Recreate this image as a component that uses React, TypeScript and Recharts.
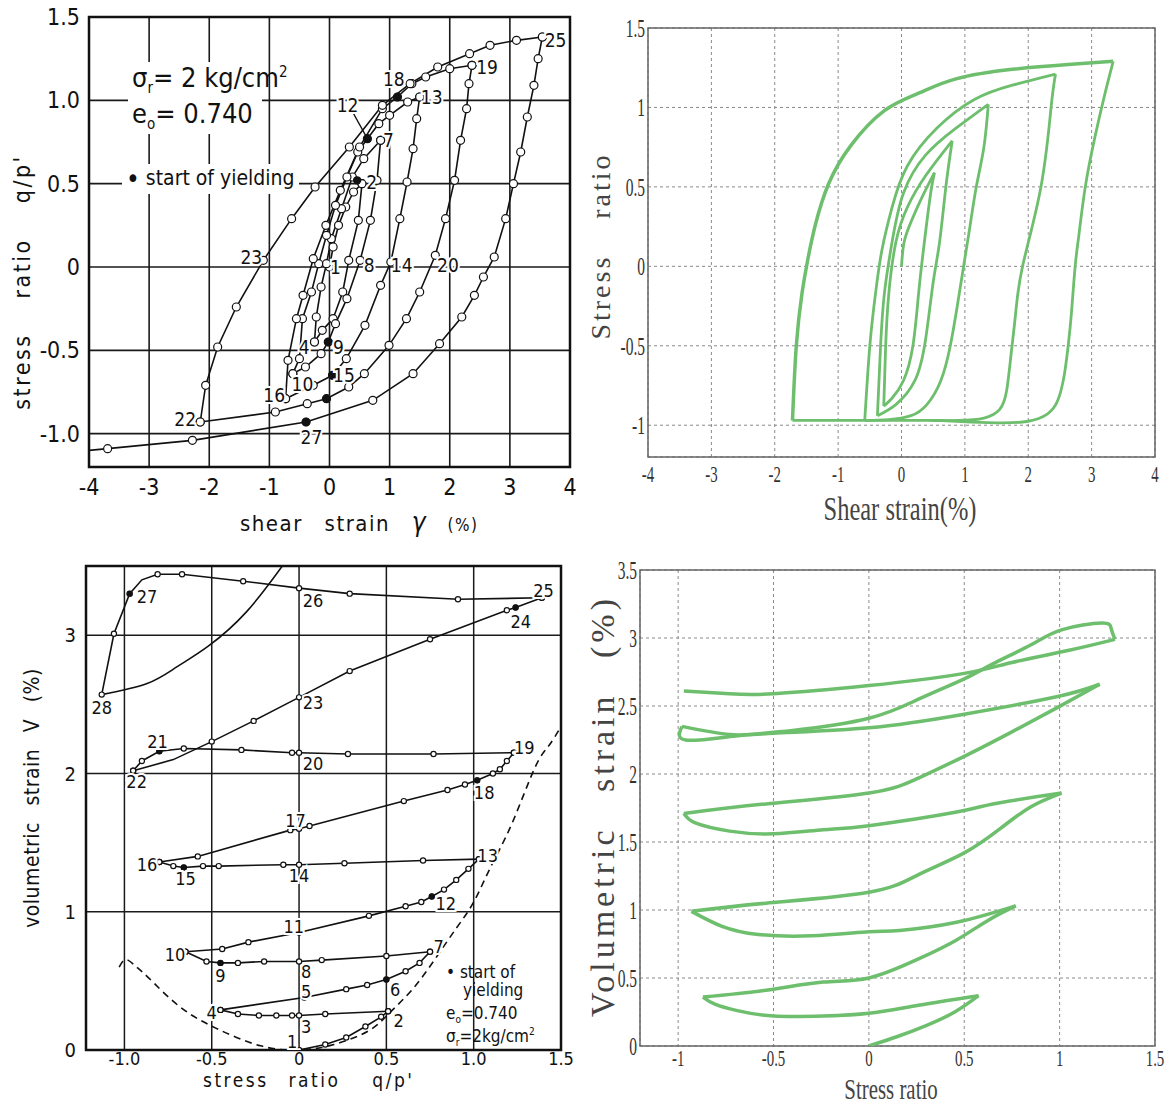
import React from "react";
import {
  ComposedChart,
  Line,
  Scatter,
  XAxis,
  YAxis,
  CartesianGrid,
  ReferenceArea,
  ReferenceLine,
} from "recharts";

// ---------- top left: measured stress ratio vs shear strain ----------
const tlLoad1 = [[0, 0], [0.06, 0.12], [0.15, 0.25], [0.27, 0.36], [0.4, 0.45], [0.54, 0.5]];
const tlUnload2 = [[0.54, 0.5], [0.48, 0.28], [0.32, 0.04], [0.22, -0.15], [0.06, -0.31], [-0.12, -0.38], [-0.25, -0.45]];
const tlLoad4 = [[-0.25, -0.45], [-0.22, -0.3], [-0.14, -0.12], [-0.05, 0.02], [0.03, 0.17], [0.2, 0.35], [0.38, 0.54], [0.57, 0.65], [0.85, 0.76]];
const tlUnload7 = [[0.85, 0.76], [0.79, 0.52], [0.68, 0.28], [0.51, 0.04], [0.29, -0.19], [0.1, -0.34], [-0.02, -0.45], [-0.14, -0.52], [-0.4, -0.6], [-0.61, -0.64]];
const tlLoad10 = [[-0.61, -0.64], [-0.5, -0.55], [-0.45, -0.31], [-0.3, -0.15], [-0.18, 0.02], [-0.05, 0.19], [0.1, 0.37], [0.29, 0.54], [0.47, 0.69], [0.63, 0.77], [0.82, 0.86], [1.0, 0.91], [1.3, 0.99], [1.5, 1.02]];
const tlUnload13 = [[1.5, 1.02], [1.45, 0.89], [1.39, 0.71], [1.29, 0.51], [1.17, 0.29], [1.02, 0.03], [0.85, -0.11], [0.59, -0.35], [0.28, -0.55], [0.05, -0.65], [-0.27, -0.71], [-0.73, -0.79]];
const tlLoad16 = [[-0.73, -0.79], [-0.69, -0.56], [-0.55, -0.31], [-0.44, -0.17], [-0.27, 0.05], [-0.06, 0.25], [0.18, 0.46], [0.5, 0.72], [0.88, 0.95], [1.13, 1.02], [1.37, 1.1], [1.6, 1.14], [2.0, 1.19], [2.37, 1.21]];
const tlUnload19 = [[2.37, 1.21], [2.32, 1.1], [2.28, 0.95], [2.18, 0.76], [2.08, 0.52], [1.93, 0.29], [1.76, 0.07], [1.5, -0.15], [1.28, -0.31], [0.99, -0.47], [0.58, -0.64], [0.32, -0.72], [-0.05, -0.79], [-0.37, -0.82], [-0.9, -0.87], [-2.15, -0.93]];
const tlLoad22 = [[-2.15, -0.93], [-2.06, -0.71], [-1.86, -0.48], [-1.55, -0.24], [-1.1, 0.04], [-0.63, 0.29], [-0.24, 0.48], [0.33, 0.72], [0.88, 0.97], [1.34, 1.1], [1.8, 1.2], [2.33, 1.28], [2.67, 1.33], [3.11, 1.36], [3.54, 1.38]];
const tlUnload25 = [[3.54, 1.38], [3.47, 1.25], [3.4, 1.09], [3.29, 0.9], [3.18, 0.69], [3.06, 0.5], [2.93, 0.29], [2.74, 0.06], [2.56, -0.06], [2.41, -0.17], [2.2, -0.3], [1.83, -0.46], [1.39, -0.64], [0.72, -0.8], [-0.39, -0.93], [-2.28, -1.04], [-3.69, -1.09], [-4, -1.1, 0]];
const tlYield = [[0.46, 0.52], [0.63, 0.77], [1.13, 1.02], [-0.02, -0.45], [0.05, -0.65], [-0.05, -0.79], [-0.39, -0.93]];
const tlLabels = [
  [3.76, 1.36, "25"], [2.62, 1.2, "19"], [1.07, 1.13, "18"], [1.7, 1.02, "13"], [0.3, 0.97, "12"],
  [0.98, 0.76, "7"], [0.7, 0.51, "2"], [-1.3, 0.06, "23"], [0.1, 0.0, "1"], [0.66, 0.01, "8"],
  [1.2, 0.01, "14"], [1.97, 0.01, "20"], [-0.42, -0.48, "4"], [0.15, -0.48, "9"], [-0.45, -0.7, "10"],
  [0.24, -0.65, "15"], [-0.92, -0.77, "16"], [-2.4, -0.91, "22"], [-0.3, -1.02, "27"],
];
const tlXTicks = [-4, -3, -2, -1, 0, 1, 2, 3, 4];
const tlYTicks = [-1, -0.5, 0, 0.5, 1, 1.5];

// ---------- top right: simulated stress ratio vs shear strain ----------
const trLoad0 = [[0, 0], [0.04, 0.15], [0.15, 0.28], [0.33, 0.44], [0.52, 0.59]];
const trUn1 = [[0.52, 0.59], [0.46, 0.46], [0.36, 0.15], [0.27, -0.17], [0.18, -0.5], [0.03, -0.72], [-0.15, -0.83], [-0.28, -0.88]];
const trRe1 = [[-0.28, -0.88], [-0.25, -0.5], [-0.2, -0.17], [-0.09, 0.15], [0.09, 0.37], [0.38, 0.57], [0.8, 0.79]];
const trUn2 = [[0.8, 0.79], [0.7, 0.5], [0.6, 0.15], [0.5, -0.1], [0.38, -0.46], [0.21, -0.72], [-0.09, -0.87], [-0.38, -0.94]];
const trRe2 = [[-0.38, -0.94], [-0.33, -0.5], [-0.27, -0.17], [-0.15, 0.15], [0.03, 0.46], [0.38, 0.7], [0.86, 0.87], [1.37, 1.02]];
const trUn3 = [[1.37, 1.02], [1.3, 0.75], [1.18, 0.5], [1.08, 0.25], [0.98, 0], [0.88, -0.25], [0.77, -0.5], [0.62, -0.72], [0.4, -0.87], [0.15, -0.94], [-0.2, -0.965], [-0.58, -0.97]];
const trRe3 = [[-0.58, -0.97], [-0.5, -0.5], [-0.41, -0.17], [-0.31, 0.1], [-0.15, 0.37], [0.09, 0.63], [0.56, 0.87], [1.15, 1.05], [1.75, 1.14], [2.43, 1.21]];
const trUn4 = [[2.43, 1.21], [2.36, 1.0], [2.2, 0.5], [1.91, 0], [1.8, -0.3], [1.73, -0.55], [1.66, -0.78], [1.55, -0.9], [1.3, -0.955], [0.9, -0.97], [0.4, -0.97], [-0.2, -0.97], [-0.8, -0.97], [-1.3, -0.97], [-1.72, -0.97]];
const trRe4 = [[-1.72, -0.97], [-1.66, -0.5], [-1.57, -0.17], [-1.48, 0.04], [-1.36, 0.26], [-1.15, 0.52], [-0.8, 0.76], [-0.27, 0.98], [0.27, 1.09], [0.86, 1.18], [1.75, 1.24], [2.63, 1.27], [3.34, 1.29]];
const trUn5 = [[3.34, 1.29], [3.2, 1.07], [3.05, 0.81], [2.9, 0.5], [2.8, 0.2], [2.74, 0], [2.68, -0.3], [2.63, -0.5], [2.57, -0.68], [2.47, -0.84], [2.3, -0.93], [2.0, -0.975], [1.6, -0.985], [1.1, -0.98], [0.56, -0.97]];
const trXTicks = [-4, -3, -2, -1, 0, 1, 2, 3, 4];
const trYTicks = [-1, -0.5, 0, 0.5, 1, 1.5];

// ---------- bottom left: measured volumetric strain vs stress ratio ----------
const blLoad1 = [[0, 0], [0.15, 0.04], [0.27, 0.09], [0.38, 0.17], [0.47, 0.24], [0.51, 0.28]];
const blUnload2 = [[0.51, 0.28], [0.15, 0.26], [0, 0.25], [-0.04, 0.25], [-0.13, 0.25], [-0.23, 0.25], [-0.35, 0.26], [-0.45, 0.29]];
const blLoad4 = [[-0.45, 0.29], [0.03, 0.38], [0.27, 0.44], [0.39, 0.47], [0.5, 0.51], [0.61, 0.57], [0.69, 0.63], [0.75, 0.71]];
const blUnload7 = [[0.75, 0.71], [0.5, 0.68], [0.13, 0.65], [0, 0.64], [-0.2, 0.64], [-0.35, 0.63], [-0.45, 0.63], [-0.53, 0.64], [-0.65, 0.71]];
const blLoad10 = [[-0.65, 0.71], [-0.44, 0.73], [-0.29, 0.78], [0, 0.85], [0.4, 0.97], [0.61, 1.04], [0.7, 1.07], [0.76, 1.11], [0.83, 1.16], [0.9, 1.23], [0.97, 1.31], [1.03, 1.38]];
const blUnload13 = [[1.03, 1.38], [0.71, 1.37], [0.26, 1.35], [0, 1.34], [-0.09, 1.34], [-0.46, 1.33], [-0.55, 1.33], [-0.66, 1.32], [-0.72, 1.33], [-0.8, 1.36]];
const blLoad16 = [[-0.8, 1.36], [-0.58, 1.4], [-0.05, 1.59], [0, 1.6], [0.06, 1.62], [0.6, 1.8], [0.85, 1.88], [0.95, 1.92], [1.02, 1.95], [1.11, 2.0], [1.15, 2.03], [1.19, 2.09], [1.23, 2.15]];
const blUnload19 = [[1.23, 2.15], [0.77, 2.14], [0.28, 2.14], [0, 2.15], [-0.04, 2.15], [-0.33, 2.17], [-0.66, 2.18], [-0.8, 2.16], [-0.9, 2.09], [-0.95, 2.02]];
const blLoad22 = [[-0.95, 2.02], [-0.72, 2.1, 0], [-0.5, 2.23], [-0.26, 2.38], [0, 2.55], [0.29, 2.74], [0.75, 2.97], [1.19, 3.18], [1.24, 3.2], [1.39, 3.27]];
const blUnload25 = [[1.39, 3.27], [0.91, 3.26], [0.29, 3.3], [0, 3.34], [-0.32, 3.39], [-0.67, 3.44], [-0.81, 3.44], [-0.9, 3.4, 0], [-0.97, 3.3], [-1.06, 3.01], [-1.13, 2.57]];
const blTail28 = [[-1.13, 2.57], [-0.87, 2.65], [-0.7, 2.77], [-0.52, 2.92], [-0.3, 3.17], [-0.09, 3.51]];
const blDashed = [[-1.03, 0.6], [-1.01, 0.64], [-0.98, 0.65], [-0.93, 0.6], [-0.86, 0.52], [-0.69, 0.32], [-0.48, 0.16], [-0.22, 0.03], [0, 0], [0.2, 0.04], [0.4, 0.14], [0.52, 0.27], [0.65, 0.44], [0.78, 0.66], [0.9, 0.88], [1.0, 1.07], [1.1, 1.33], [1.22, 1.64], [1.35, 2.04], [1.43, 2.2], [1.5, 2.34]];
const blYield = [[0.5, 0.51], [-0.45, 0.63], [0.76, 1.11], [-0.66, 1.32], [1.02, 1.95], [-0.8, 2.16], [1.24, 3.2], [-0.97, 3.3]];
const blLabels = [
  [-0.04, 0.06, "1"], [0.57, 0.21, "2"], [0.04, 0.17, "3"], [-0.5, 0.27, "4"], [0.04, 0.42, "5"],
  [0.55, 0.44, "6"], [0.8, 0.75, "7"], [0.04, 0.57, "8"], [-0.45, 0.54, "9"], [-0.71, 0.69, "10"],
  [-0.03, 0.89, "11"], [0.84, 1.06, "12"], [1.08, 1.41, "13"], [0, 1.26, "14"], [-0.65, 1.24, "15"],
  [-0.87, 1.34, "16"], [-0.02, 1.66, "17"], [1.06, 1.86, "18"], [1.29, 2.19, "19"], [0.08, 2.07, "20"],
  [-0.81, 2.23, "21"], [-0.93, 1.94, "22"], [0.08, 2.51, "23"], [1.27, 3.1, "24"], [1.4, 3.32, "25"],
  [0.08, 3.25, "26"], [-0.87, 3.28, "27"], [-1.13, 2.48, "28"],
];
const blXTicks = [-1, -0.5, 0, 0.5, 1, 1.5];
const blYTicks = [0, 1, 2, 3];

// ---------- bottom right: simulated volumetric strain vs stress ratio ----------
const brLoad0 = [[0, 0], [0.15, 0.07], [0.3, 0.15], [0.45, 0.25], [0.575, 0.37]];
const brUn1 = [[0.575, 0.37], [0.26, 0.3], [0, 0.24], [-0.24, 0.22], [-0.5, 0.22], [-0.69, 0.26], [-0.81, 0.31], [-0.87, 0.36]];
const brRe1 = [[-0.87, 0.36], [-0.54, 0.41], [-0.24, 0.47], [0, 0.5], [0.26, 0.64], [0.46, 0.78], [0.62, 0.92], [0.77, 1.03]];
const brUn2 = [[0.77, 1.03], [0.46, 0.91], [0.16, 0.85], [0, 0.84], [-0.3, 0.81], [-0.58, 0.82], [-0.77, 0.88], [-0.93, 0.99]];
const brRe2 = [[-0.93, 0.99], [-0.54, 1.05], [0, 1.13], [0.26, 1.26], [0.5, 1.42], [0.69, 1.6], [0.85, 1.76], [1.01, 1.86]];
const brUn3 = [[1.01, 1.86], [0.65, 1.78], [0.46, 1.72], [0, 1.62], [-0.24, 1.59], [-0.5, 1.56], [-0.73, 1.58], [-0.91, 1.64], [-0.97, 1.71]];
const brRe3 = [[-0.97, 1.71], [-0.54, 1.78], [0, 1.86], [0.26, 1.97], [0.5, 2.13], [0.75, 2.31], [0.99, 2.49], [1.21, 2.66]];
const brUn4 = [[1.21, 2.66], [0.99, 2.57], [0.5, 2.44], [0, 2.34], [-0.5, 2.3], [-0.73, 2.29], [-0.98, 2.35]];
const brRe4 = [[-0.98, 2.35], [-0.96, 2.25], [-0.7, 2.28], [-0.4, 2.32], [0, 2.41], [0.26, 2.55], [0.5, 2.7], [0.65, 2.81], [0.85, 2.95], [1.01, 3.06], [1.22, 3.11], [1.27, 3.07], [1.29, 2.99]];
const brUn5 = [[1.29, 2.99], [1.05, 2.91], [0.75, 2.82], [0.5, 2.74], [0, 2.65], [-0.5, 2.59], [-0.73, 2.59], [-0.97, 2.61]];
const brXTicks = [-1, -0.5, 0, 0.5, 1, 1.5];
const brYTicks = [0, 0.5, 1, 1.5, 2, 2.5, 3, 3.5];

const GREEN = "#6dbf6d";
const SANS = "'Liberation Sans Narrow', 'DejaVu Sans Condensed', 'Roboto', sans-serif";
const SERIF = "'Liberation Serif', 'DejaVu Serif', serif";

const pts = (a: any[]) => a.map(([x, y, m]) => ({ x, y, m: m !== 0 }));
const labs = (a: any[]) => a.map(([x, y, t]) => ({ x, y, t }));
const fmt1 = (v: number) => (v === 0 ? "0" : v.toFixed(1));

const openDot = (r: number) => (p: any) => {
  const { cx, cy, payload, index } = p;
  if (!payload.m) return <g key={index} />;
  return <circle key={index} cx={cx} cy={cy} r={r} fill="#fff" stroke="#111" strokeWidth={1.2} />;
};

const blackDot = (r: number) => (p: any) => <circle cx={p.cx} cy={p.cy} r={r} fill="#111" />;

const numLabel = (size: number) => (p: any) => (
  <text
    x={p.cx}
    y={p.cy}
    textAnchor="middle"
    dominantBaseline="central"
    fontSize={size}
    fontFamily={SANS}
    fill="#111"
    stroke="#fff"
    strokeWidth={4}
    paintOrder="stroke"
  >
    {p.payload.t}
  </text>
);

const SerifTickX = (p: any) => (
  <g transform={`translate(${p.x},${p.y})`}>
    <text transform="scale(0.62,1)" textAnchor="middle" dy="0.8em" fontSize={24} fontFamily={SERIF} fill="#333">
      {String(p.payload.value)}
    </text>
  </g>
);
const SerifTickY = (p: any) => (
  <g transform={`translate(${p.x},${p.y})`}>
    <text transform="scale(0.62,1)" textAnchor="end" dy="0.35em" fontSize={25} fontFamily={SERIF} fill="#333">
      {String(p.payload.value)}
    </text>
  </g>
);

const Txt = ({ x, y, size, children, style }: any) => (
  <div
    style={{
      position: "absolute",
      left: x,
      top: y,
      fontSize: size,
      lineHeight: 1,
      whiteSpace: "nowrap",
      color: "#111",
      fontFamily: SANS,
      ...style,
    }}
  >
    {children}
  </div>
);

const VTxt = ({ cx, cy, size, children, style }: any) => (
  <div
    style={{
      position: "absolute",
      left: cx,
      top: cy,
      transform: "translate(-50%,-50%) rotate(-90deg)",
      fontSize: size,
      lineHeight: 1,
      whiteSpace: "nowrap",
      color: "#111",
      fontFamily: SANS,
      ...style,
    }}
  >
    {children}
  </div>
);

function TopLeft() {
  const branches = [tlLoad1, tlUnload2, tlLoad4, tlUnload7, tlLoad10, tlUnload13, tlLoad16, tlUnload19, tlLoad22, tlUnload25];
  return (
    <ComposedChart width={580} height={540} margin={{ top: 17, right: 10, bottom: 43, left: 29 }}>
      <CartesianGrid stroke="#1a1a1a" strokeWidth={1.6} />
      <XAxis
        type="number"
        dataKey="x"
        domain={[-4, 4]}
        ticks={tlXTicks}
        interval={0}
        allowDataOverflow
        axisLine={false}
        tickLine={false}
        tickSize={0}
        tickMargin={12}
        height={30}
        tick={{ fontSize: 23, fill: "#111", fontFamily: SANS }}
      />
      <YAxis
        type="number"
        dataKey="y"
        domain={[-1.2, 1.5]}
        ticks={tlYTicks}
        interval={0}
        allowDataOverflow
        axisLine={false}
        tickLine={false}
        tickSize={0}
        tickMargin={9}
        width={60}
        tickFormatter={fmt1}
        tick={{ fontSize: 23, fill: "#111", fontFamily: SANS }}
      />
      <ReferenceArea x1={-4} x2={4} y1={-1.2} y2={1.5} fill="none" stroke="#111" strokeWidth={2.5} />
      <ReferenceLine segment={[{ x: 0.4, y: 0.92 }, { x: 0.6, y: 0.79 }]} stroke="#111" strokeWidth={1.3} />
      {branches.map((b, i) => (
        <Line
          key={i}
          data={pts(b)}
          dataKey="y"
          type="linear"
          stroke="#111"
          strokeWidth={1.6}
          dot={openDot(4)}
          activeDot={false}
          isAnimationActive={false}
        />
      ))}
      <Scatter data={pts(tlYield)} dataKey="y" shape={blackDot(4.2)} isAnimationActive={false} />
      <Scatter data={labs(tlLabels)} dataKey="y" shape={numLabel(19)} isAnimationActive={false} />
    </ComposedChart>
  );
}

function TopRight() {
  const branches = [trLoad0, trUn1, trRe1, trUn2, trRe2, trUn3, trRe3, trUn4, trRe4, trUn5];
  return (
    <ComposedChart width={587} height={540} margin={{ top: 28, right: 12, bottom: 53, left: 18 }}>
      <CartesianGrid stroke="#8a8a8a" strokeDasharray="3 3" strokeWidth={1} />
      <XAxis
        type="number"
        dataKey="x"
        domain={[-4, 4]}
        ticks={trXTicks}
        interval={0}
        allowDataOverflow
        axisLine={false}
        tickLine={false}
        tickSize={0}
        tickMargin={6}
        height={30}
        tick={<SerifTickX />}
      />
      <YAxis
        type="number"
        dataKey="y"
        domain={[-1.2, 1.5]}
        ticks={trYTicks}
        interval={0}
        allowDataOverflow
        axisLine={false}
        tickLine={false}
        tickSize={0}
        tickMargin={3}
        width={50}
        tick={<SerifTickY />}
      />
      <ReferenceArea x1={-4} x2={4} y1={-1.2} y2={1.5} fill="none" stroke="#666" strokeWidth={1.5} />
      {branches.map((b, i) => (
        <Line
          key={i}
          data={pts(b)}
          dataKey="y"
          type="natural"
          stroke={GREEN}
          strokeWidth={i === 8 ? 3.5 : 2.8}
          dot={false}
          activeDot={false}
          isAnimationActive={false}
        />
      ))}
    </ComposedChart>
  );
}

function BottomLeft() {
  const branches = [blLoad1, blUnload2, blLoad4, blUnload7, blLoad10, blUnload13, blLoad16, blUnload19, blLoad22, blUnload25];
  return (
    <ComposedChart width={580} height={555} margin={{ top: 16, right: 19, bottom: 30, left: 36 }}>
      <CartesianGrid stroke="#1a1a1a" strokeWidth={1.5} />
      <XAxis
        type="number"
        dataKey="x"
        domain={[-1.22, 1.5]}
        ticks={blXTicks}
        interval={0}
        allowDataOverflow
        axisLine={false}
        tickLine={false}
        tickSize={0}
        tickMargin={2}
        height={25}
        tickFormatter={fmt1}
        tick={{ fontSize: 18, fill: "#111", fontFamily: SANS }}
      />
      <YAxis
        type="number"
        dataKey="y"
        domain={[0, 3.5]}
        ticks={blYTicks}
        interval={0}
        allowDataOverflow
        axisLine={false}
        tickLine={false}
        tickSize={0}
        tickMargin={10}
        width={50}
        tick={{ fontSize: 20, fill: "#111", fontFamily: SANS }}
      />
      <ReferenceArea x1={-1.22} x2={1.5} y1={0} y2={3.5} fill="none" stroke="#111" strokeWidth={2.5} />
      <Line
        data={pts(blDashed)}
        dataKey="y"
        type="natural"
        stroke="#111"
        strokeWidth={1.6}
        strokeDasharray="7 5"
        dot={false}
        activeDot={false}
        isAnimationActive={false}
      />
      <Line
        data={pts(blTail28)}
        dataKey="y"
        type="natural"
        stroke="#111"
        strokeWidth={1.6}
        dot={false}
        activeDot={false}
        isAnimationActive={false}
      />
      {branches.map((b, i) => (
        <Line
          key={i}
          data={pts(b)}
          dataKey="y"
          type="linear"
          stroke="#111"
          strokeWidth={1.6}
          dot={openDot(2.6)}
          activeDot={false}
          isAnimationActive={false}
        />
      ))}
      <Scatter data={pts(blYield)} dataKey="y" shape={blackDot(3)} isAnimationActive={false} />
      <Scatter data={labs(blLabels)} dataKey="y" shape={numLabel(18)} isAnimationActive={false} />
    </ComposedChart>
  );
}

function BottomRight() {
  const branches = [brLoad0, brUn1, brRe1, brUn2, brRe2, brUn3, brRe3, brUn4, brRe4, brUn5];
  return (
    <ComposedChart width={587} height={555} margin={{ top: 20, right: 12, bottom: 34, left: 15 }}>
      <CartesianGrid stroke="#8a8a8a" strokeDasharray="3 3" strokeWidth={1} />
      <XAxis
        type="number"
        dataKey="x"
        domain={[-1.2, 1.5]}
        ticks={brXTicks}
        interval={0}
        allowDataOverflow
        axisLine={false}
        tickLine={false}
        tickSize={0}
        tickMargin={1}
        height={25}
        tick={<SerifTickX />}
      />
      <YAxis
        type="number"
        dataKey="y"
        domain={[0, 3.5]}
        ticks={brYTicks}
        interval={0}
        allowDataOverflow
        axisLine={false}
        tickLine={false}
        tickSize={0}
        tickMargin={3}
        width={45}
        tick={<SerifTickY />}
      />
      <ReferenceArea x1={-1.2} x2={1.5} y1={0} y2={3.5} fill="none" stroke="#666" strokeWidth={1.5} />
      {branches.map((b, i) => (
        <Line
          key={i}
          data={pts(b)}
          dataKey="y"
          type="natural"
          stroke={GREEN}
          strokeWidth={3.5}
          dot={false}
          activeDot={false}
          isAnimationActive={false}
        />
      ))}
    </ComposedChart>
  );
}

export default function App() {
  return (
    <div style={{ position: "absolute", left: 0, top: 0, width: 1167, height: 1105, background: "#fff", overflow: "hidden" }}>
      <div style={{ position: "absolute", left: 0, top: 0 }}>
        <TopLeft />
      </div>
      <div style={{ position: "absolute", left: 580, top: 0 }}>
        <TopRight />
      </div>
      <div style={{ position: "absolute", left: 0, top: 550 }}>
        <BottomLeft />
      </div>
      <div style={{ position: "absolute", left: 580, top: 550 }}>
        <BottomRight />
      </div>

      {/* top-left annotations */}
      <Txt x={128} y={62} size={27} style={{ background: "#fff", padding: "2px 4px", width: 126 }}>
        σ<sub style={{ fontSize: 15 }}>r</sub>= 2 kg/cm<sup style={{ fontSize: 15 }}>2</sup>
      </Txt>
      <Txt x={128} y={98} size={27} style={{ background: "#fff", padding: "2px 4px", width: 126 }}>
        e<sub style={{ fontSize: 15 }}>o</sub>= 0.740
      </Txt>
      <Txt x={122} y={164} size={21} style={{ background: "#fff", padding: "2px 4px" }}>
        <span style={{ fontSize: 26, verticalAlign: -3 }}>•</span> start of yielding
      </Txt>
      <Txt x={240} y={509} size={22} style={{ letterSpacing: 1.5, wordSpacing: 14 }}>
        shear strain <span style={{ fontStyle: "italic", fontSize: 26 }}>γ</span>
        <span style={{ fontSize: 17 }}> (%)</span>
      </Txt>
      <VTxt cx={22} cy={282} size={23} style={{ letterSpacing: 2.5, wordSpacing: 26 }}>
        stress ratio q/p'
      </VTxt>

      {/* top-right titles */}
      <div
        style={{
          position: "absolute",
          left: 900,
          top: 509,
          transform: "translate(-50%,-50%) scaleX(0.72)",
          fontFamily: SERIF,
          fontSize: 34,
          color: "#444",
          whiteSpace: "nowrap",
          lineHeight: 1,
        }}
      >
        Shear strain(%)
      </div>
      <VTxt cx={601} cy={246} size={28} style={{ fontFamily: SERIF, color: "#444", letterSpacing: 3, wordSpacing: 26 }}>
        Stress ratio
      </VTxt>

      {/* bottom-left annotations */}
      <Txt x={203} y={1071} size={19} style={{ letterSpacing: 2.5, wordSpacing: 12 }}>
        stress ratio <span style={{ marginLeft: 12 }}>q/p'</span>
      </Txt>
      <VTxt cx={32} cy={798} size={21} style={{ letterSpacing: 0.5, wordSpacing: 10 }}>
        volumetric strain V (%)
      </VTxt>
      <Txt x={446} y={964} size={17}>• start of</Txt>
      <Txt x={463} y={982} size={17}>yielding</Txt>
      <Txt x={446} y={1005} size={17}>
        e<sub style={{ fontSize: 10 }}>o</sub>=0.740
      </Txt>
      <Txt x={446} y={1027} size={17}>
        σ<sub style={{ fontSize: 10 }}>r</sub>=2kg/cm<sup style={{ fontSize: 10 }}>2</sup>
      </Txt>

      {/* bottom-right titles */}
      <div
        style={{
          position: "absolute",
          left: 891,
          top: 1089,
          transform: "translate(-50%,-50%) scaleX(0.72)",
          fontFamily: SERIF,
          fontSize: 29,
          color: "#444",
          whiteSpace: "nowrap",
          lineHeight: 1,
        }}
      >
        Stress ratio
      </div>
      <VTxt cx={603} cy={806} size={34} style={{ fontFamily: SERIF, color: "#444", letterSpacing: 4, wordSpacing: 22 }}>
        Volumetric strain (%)
      </VTxt>
    </div>
  );
}
